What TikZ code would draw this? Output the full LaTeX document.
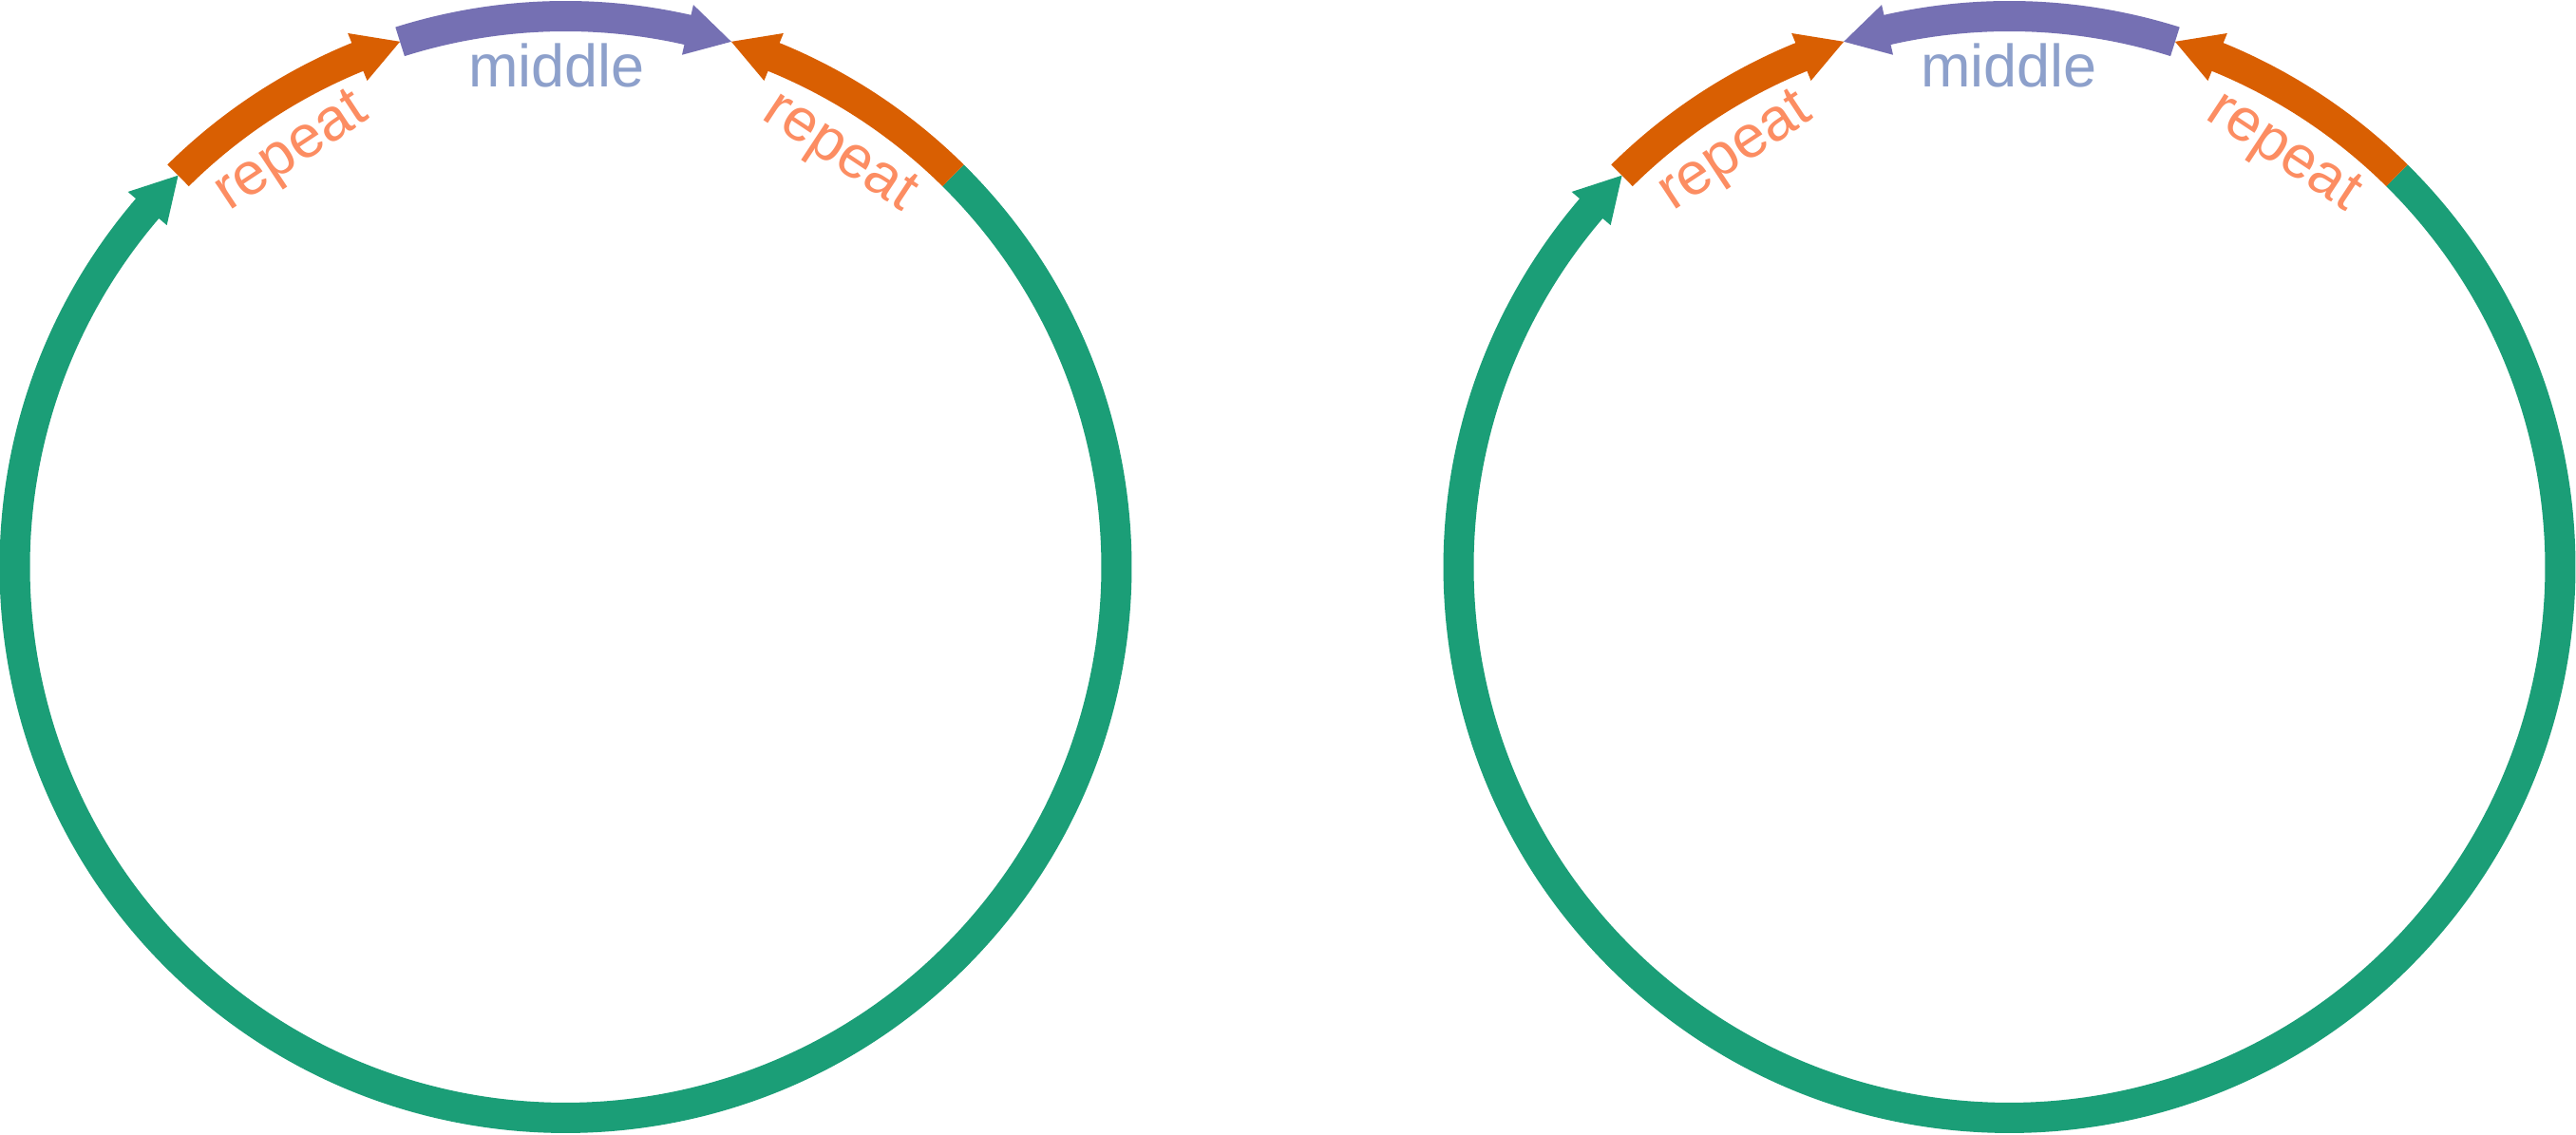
\documentclass[tikz,border=0pt]{standalone}
\usepackage{fontspec}
\setmainfont{Liberation Sans}
\usetikzlibrary{calc}
\definecolor{seggreen}{HTML}{1B9E77}
\definecolor{segorange}{HTML}{D95F02}
\definecolor{segpurple}{HTML}{7570B3}
\definecolor{txtblue}{HTML}{8DA0CB}
\definecolor{txtsalmon}{HTML}{FC8D62}
% #1 centre, #2 start angle, #3 arrow base angle, #4 tip angle, #5 colour
\newcommand\arrowseg[5]{%
  \fill[#5] ($(#1)+(#2:149pt)$) arc[start angle=#2,end angle=#3,radius=149pt]
    -- ($(#1)+(#3:151.75pt)$) -- ($(#1)+(#4:145pt)$) -- ($(#1)+(#3:138.25pt)$)
    -- ($(#1)+(#3:141pt)$) arc[start angle=#3,end angle=#2,radius=141pt] -- cycle;}
\begin{document}
\begin{tikzpicture}[x=1pt,y=1pt,
  lbl/.style={font=\fontsize{15.75}{18}\selectfont, inner sep=0pt, anchor=base},
  repeatlbl/.style={lbl, text=txtsalmon},
  middlelbl/.style={lbl, text=txtblue}]
\fill[white] (0,0) rectangle (678,298.75);
\useasboundingbox (0,0) rectangle (678,298.75);
\coordinate (CL) at (148.875,149.5);
\coordinate (CR) at (528.875,149.5);
% left diagram
\arrowseg{CL}{45.3}{-220.6}{-225.3}{seggreen}
\arrowseg{CL}{134.7}{112.2}{107.5}{segorange}
\arrowseg{CL}{107.5}{77.2}{72.5}{segpurple}
\arrowseg{CL}{45.3}{67.8}{72.5}{segorange}
\node[repeatlbl, rotate=33.45] (repLL) at ($(CL)+(123.45:126.9pt)$) {repeat};
\node[repeatlbl, rotate=-33.45] (repLR) at ($(CL)+(56.55:126.9pt)$) {repeat};
\node[middlelbl] (midL) at (146.5,275.8) {middle};
% right diagram
\arrowseg{CR}{45.3}{-220.6}{-225.3}{seggreen}
\arrowseg{CR}{134.7}{112.2}{107.5}{segorange}
\arrowseg{CR}{72.5}{102.8}{107.5}{segpurple}
\arrowseg{CR}{45.3}{67.8}{72.5}{segorange}
\node[repeatlbl, rotate=33.45] (repRL) at ($(CR)+(123.45:126.9pt)$) {repeat};
\node[repeatlbl, rotate=-33.45] (repRR) at ($(CR)+(56.55:126.9pt)$) {repeat};
\node[middlelbl] (midR) at (528.75,275.8) {middle};
\end{tikzpicture}
\end{document}
